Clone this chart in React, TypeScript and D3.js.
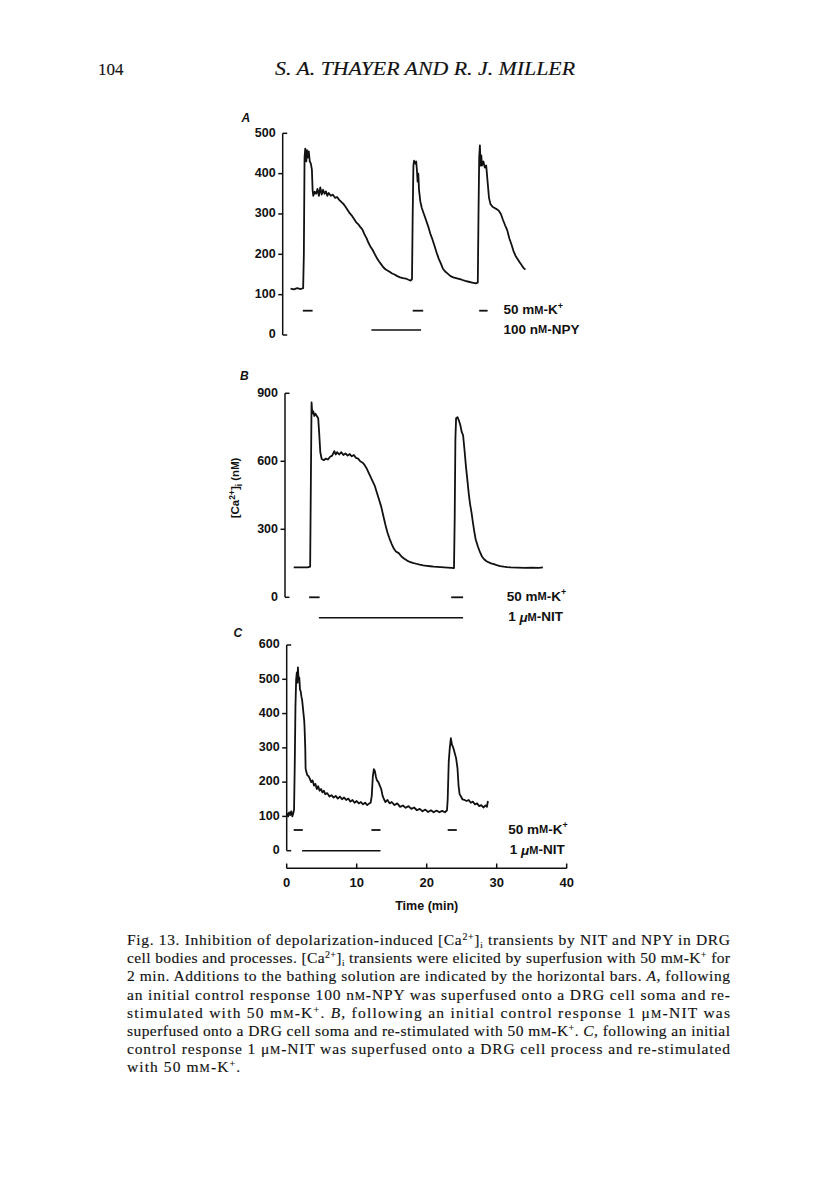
import React from "react";
import * as d3 from "d3";

// ---------- data (time in min, [Ca2+]i in nM) ----------
const timeTicks = [0, 10, 20, 30, 40];
const ticksA = [0, 100, 200, 300, 400, 500];
const ticksB = [0, 300, 600, 900];
const ticksC = [0, 100, 200, 300, 400, 500, 600];

const traceA: [number, number][] = [
  [0.55, 115], [1.0, 113], [1.5, 116], [2.0, 114], [2.35, 116], [2.45, 200], [2.55, 440], [2.65, 462], [2.8, 430], [2.9, 458],
  [3.0, 440], [3.15, 455], [3.3, 430], [3.45, 425], [3.6, 410], [3.7, 360], [3.8, 345], [4.0, 355], [4.2, 350], [4.4, 362],
  [4.6, 345], [4.8, 366], [5.0, 348], [5.2, 360], [5.4, 350], [5.6, 356], [5.8, 345], [6.0, 352], [6.3, 345], [6.6, 348],
  [6.9, 340], [7.2, 342], [7.5, 335], [7.8, 330], [8.1, 325], [8.4, 318], [8.7, 310], [9.0, 302], [9.3, 296], [9.6, 288],
  [9.9, 280], [10.2, 275], [10.5, 268], [10.8, 262], [11.1, 250], [11.4, 240], [11.7, 228], [12.0, 218], [12.3, 210],
  [12.6, 200], [12.9, 190], [13.2, 182], [13.5, 175], [13.8, 168], [14.1, 163], [14.4, 160], [14.7, 157], [15.0, 153],
  [15.4, 150], [15.8, 146], [16.2, 143], [16.6, 141], [17.0, 140], [17.4, 137], [17.7, 135], [17.9, 138], [18.0, 300],
  [18.1, 420], [18.2, 432], [18.35, 425], [18.5, 430], [18.6, 410], [18.7, 380], [18.8, 400], [18.9, 360], [19.1, 330],
  [19.3, 315], [19.6, 300], [19.9, 285], [20.2, 270], [20.5, 252], [20.8, 238], [21.1, 222], [21.4, 205], [21.7, 190],
  [22.0, 178], [22.3, 165], [22.6, 158], [23.0, 152], [23.4, 146], [23.8, 143], [24.2, 141], [24.6, 139], [25.0, 137],
  [25.5, 134], [26.0, 132], [26.5, 130], [27.0, 128], [27.3, 130], [27.4, 300], [27.5, 440], [27.6, 470], [27.7, 420],
  [27.8, 445], [27.9, 420], [28.1, 430], [28.3, 415], [28.5, 420], [28.7, 380], [28.9, 340], [29.1, 325], [29.4, 318],
  [29.7, 315], [30.0, 312], [30.3, 308], [30.6, 300], [30.9, 285], [31.2, 272], [31.5, 260], [31.8, 240], [32.1, 225],
  [32.4, 208], [32.7, 196], [33.0, 188], [33.3, 180], [33.6, 172], [33.9, 165], [34.1, 162],
];

const traceB: [number, number][] = [
  [1.0, 132], [2.0, 132], [3.0, 132], [3.35, 135], [3.45, 500], [3.55, 860], [3.65, 810], [3.8, 820], [3.95, 800], [4.1, 810],
  [4.3, 800], [4.5, 790], [4.65, 720], [4.8, 640], [5.0, 610], [5.3, 605], [5.6, 612], [5.9, 608], [6.2, 620], [6.5, 625],
  [6.8, 645], [7.0, 630], [7.2, 640], [7.5, 630], [7.8, 640], [8.1, 628], [8.4, 635], [8.7, 625], [9.0, 632], [9.3, 622],
  [9.6, 628], [9.9, 615], [10.2, 612], [10.5, 600], [10.8, 595], [11.1, 585], [11.4, 570], [11.7, 550], [12.0, 530],
  [12.3, 510], [12.6, 490], [12.9, 460], [13.2, 430], [13.5, 400], [13.8, 360], [14.1, 320], [14.4, 285], [14.7, 258],
  [15.0, 235], [15.3, 215], [15.6, 202], [16.0, 195], [16.4, 180], [16.8, 170], [17.2, 162], [17.6, 156], [18.0, 152],
  [18.5, 148], [19.0, 144], [19.5, 141], [20.0, 139], [20.5, 137], [21.0, 135], [21.5, 134], [22.0, 133], [22.5, 132],
  [23.0, 131], [23.5, 130], [23.9, 129], [24.0, 350], [24.1, 700], [24.2, 790], [24.4, 795], [24.6, 780], [24.8, 760],
  [25.0, 730], [25.2, 715], [25.4, 650], [25.6, 580], [25.8, 520], [26.0, 460], [26.2, 410], [26.4, 375], [26.6, 330],
  [26.8, 290], [27.0, 255], [27.3, 225], [27.6, 200], [27.9, 180], [28.2, 168], [28.5, 160], [28.8, 155], [29.2, 150],
  [29.6, 146], [30.0, 142], [30.5, 138], [31.0, 135], [31.5, 133], [32, 132], [33, 131], [34, 130], [35, 131], [36, 130],
  [36.6, 132],
];

const traceC: [number, number][] = [
  [0.0, 110], [0.2, 100], [0.35, 112], [0.5, 104], [0.65, 115], [0.8, 100], [0.95, 110], [1.05, 120], [1.15, 250], [1.25, 420],
  [1.35, 500], [1.45, 520], [1.55, 490], [1.6, 535], [1.7, 500], [1.8, 505], [1.9, 470], [2.0, 465], [2.1, 450], [2.2, 440],
  [2.3, 420], [2.4, 400], [2.5, 380], [2.55, 360], [2.65, 300], [2.7, 240], [2.8, 230], [2.95, 220], [3.1, 218], [3.3, 210],
  [3.5, 200], [3.7, 205], [3.9, 190], [4.1, 195], [4.3, 180], [4.5, 188], [4.7, 175], [4.9, 180], [5.1, 170], [5.3, 175],
  [5.5, 165], [5.8, 168], [6.1, 158], [6.4, 162], [6.7, 155], [7.0, 160], [7.3, 152], [7.6, 158], [7.9, 150], [8.2, 155],
  [8.5, 148], [8.8, 152], [9.1, 143], [9.4, 148], [9.7, 140], [10.0, 145], [10.3, 138], [10.6, 142], [10.9, 135], [11.2, 140],
  [11.5, 133], [11.8, 138], [12.0, 140], [12.15, 160], [12.3, 215], [12.45, 238], [12.6, 232], [12.75, 215], [12.9, 205],
  [13.1, 200], [13.3, 190], [13.5, 180], [13.7, 160], [13.9, 150], [14.1, 142], [14.4, 148], [14.7, 138], [15.0, 142],
  [15.4, 133], [15.8, 138], [16.2, 128], [16.6, 132], [17.0, 125], [17.4, 130], [17.8, 122], [18.2, 126], [18.6, 118],
  [19.0, 122], [19.4, 115], [19.8, 120], [20.2, 113], [20.6, 118], [21.0, 112], [21.4, 117], [21.8, 112], [22.2, 116],
  [22.6, 112], [22.9, 118], [23.0, 150], [23.15, 260], [23.3, 300], [23.45, 328], [23.6, 310], [23.8, 300], [24.0, 285],
  [24.2, 270], [24.4, 240], [24.55, 190], [24.7, 165], [24.9, 158], [25.1, 150], [25.4, 148], [25.7, 145], [26.0, 148],
  [26.3, 140], [26.6, 143], [26.9, 135], [27.2, 138], [27.5, 130], [27.8, 133], [28.1, 126], [28.4, 132], [28.6, 128],
  [28.75, 145],
];

// stimulus bars: [start, end] in min
const kBarsA: [number, number][] = [[2.3, 3.7], [18.0, 19.5], [27.5, 28.7]];
const drugBarsA: [number, number][] = [[12.1, 19.2]];
const kBarsB: [number, number][] = [[3.2, 4.7], [23.5, 25.2]];
const drugBarsB: [number, number][] = [[4.6, 25.2]];
const kBarsC: [number, number][] = [[1.0, 2.3], [12.1, 13.4], [23.0, 24.3]];
const drugBarsC: [number, number][] = [[2.2, 13.4]];

const captionLines = [
  "Fig. 13. Inhibition of depolarization-induced [Ca|2+|]~i~ transients by NIT and NPY in DRG",
  "cell bodies and processes. [Ca|2+|]~i~ transients were elicited by superfusion with 50 m^M^-K|+| for",
  "2 min. Additions to the bathing solution are indicated by the horizontal bars. *A*, following",
  "an initial control response 100 n^M^-NPY was superfused onto a DRG cell soma and re-",
  "stimulated with 50 m^M^-K|+|. *B*, following an initial control response 1 μ^M^-NIT was",
  "superfused onto a DRG cell soma and re-stimulated with 50 m^M^-K|+|. *C*, following an initial",
  "control response 1 μ^M^-NIT was superfused onto a DRG cell process and re-stimulated",
  "with 50 m^M^-K|+|.",
];

// ---------- layout ----------
const SANS = "'Liberation Sans', Arial, Helvetica, sans-serif";
const SERIF = "'Liberation Serif', 'Times New Roman', serif";

const x = d3.scaleLinear().domain([0, 40]).range([286.7, 566.7]);

type Panel = {
  letter: string;
  letterPos: [number, number];
  trace: [number, number][];
  ticks: number[];
  yRange: [number, number];
  axisX: number;
  kBars: [number, number][];
  drugBars: [number, number][];
  kRowY: number;
  drugRowY: number;
  labelX: number;
  drugLabel: "NPY" | "NIT";
};

const panels: Panel[] = [
  {
    letter: "A", letterPos: [241.5, 122], trace: traceA, ticks: ticksA, yRange: [335, 133.3], axisX: 282.7,
    kBars: kBarsA, drugBars: drugBarsA, kRowY: 310.7, drugRowY: 330, labelX: 503.5, drugLabel: "NPY",
  },
  {
    letter: "B", letterPos: [240, 380], trace: traceB, ticks: ticksB, yRange: [597.3, 393.3], axisX: 285,
    kBars: kBarsB, drugBars: drugBarsB, kRowY: 597.3, drugRowY: 617.7, labelX: 506.7, drugLabel: "NIT",
  },
  {
    letter: "C", letterPos: [233.5, 637], trace: traceC, ticks: ticksC, yRange: [850.7, 645], axisX: 286.7,
    kBars: kBarsC, drugBars: drugBarsC, kRowY: 830, drugRowY: 850.7, labelX: 508.3, drugLabel: "NIT",
  },
];

function renderCaptionLine(s: string, key: string) {
  // markup: |sup|, ~sub~, ^smallcap^, *italic*
  const parts: React.ReactNode[] = [];
  const re = /(\|[^|]+\||~[^~]+~|\^[^^]+\^|\*[^*]+\*)/g;
  let last = 0;
  let m: RegExpExecArray | null;
  let i = 0;
  let pending = 0;
  const push = (node: string, props: Record<string, unknown>, shift = 0) => {
    const dy = pending + shift;
    parts.push(
      <tspan key={key + i++} {...props} dy={dy !== 0 ? dy : undefined}>
        {node}
      </tspan>
    );
    pending = -shift;
  };
  while ((m = re.exec(s)) !== null) {
    if (m.index > last) push(s.slice(last, m.index), {});
    const tok = m[0];
    const body = tok.slice(1, -1);
    if (tok[0] === "|") push(body, { fontSize: 10 }, -5);
    else if (tok[0] === "~") push(body, { fontSize: 9 }, 3);
    else if (tok[0] === "^") push(body, { fontSize: 11.5 });
    else push(body, { fontStyle: "italic" });
    last = m.index + tok.length;
  }
  if (last < s.length) push(s.slice(last), {});
  return parts;
}

function StimLabel({ xPos, y, kind, drug }: { xPos: number; y: number; kind: "K" | "drug"; drug: string }) {
  const common = { x: xPos, y, fontFamily: SANS, fontWeight: 700, fontSize: 13.5, dominantBaseline: "middle" as const, fill: "#111" };
  if (kind === "K") {
    return (
      <text {...common}>
        50 m<tspan fontSize={11}>M</tspan>-K<tspan fontSize={9} dy={-4}>+</tspan>
      </text>
    );
  }
  if (drug === "NPY") {
    return (
      <text {...common}>
        100 n<tspan fontSize={11}>M</tspan>-NPY
      </text>
    );
  }
  return (
    <text {...common}>
      1 <tspan fontStyle="italic">μ</tspan><tspan fontSize={11}>M</tspan>-NIT
    </text>
  );
}

export default function App() {
  const line = d3.line<[number, number]>();
  const stroke = "#111";
  return (
    <svg width={816} height={1183} style={{ position: "absolute", left: 0, top: 0, background: "#fff" }}>
      <rect x={0} y={0} width={816} height={1183} fill="#fff" />
      {/* running header */}
      <text x={98} y={75} fontFamily={SERIF} fontSize={17} fill="#111" stroke="#111" strokeWidth={0.15}>104</text>
      <text x={275} y={75} fontFamily={SERIF} fontSize={18} fontStyle="italic" fill="#111" stroke="#111" strokeWidth={0.15}
        textLength={300} lengthAdjust="spacingAndGlyphs">
        S. A. THAYER  AND  R. J. MILLER
      </text>

      {panels.map((p) => {
        const y = d3.scaleLinear().domain([p.ticks[0], p.ticks[p.ticks.length - 1]]).range(p.yRange);
        const path = line.x((d) => x(d[0])).y((d) => y(d[1]))(p.trace) || "";
        const yTop = y(p.ticks[p.ticks.length - 1]);
        const yBot = y(p.ticks[0]);
        return (
          <g key={p.letter}>
            <text x={p.letterPos[0]} y={p.letterPos[1]} fontFamily={SANS} fontWeight={700} fontStyle="italic" fontSize={12} fill="#111">
              {p.letter}
            </text>
            {/* y axis */}
            <line x1={p.axisX} x2={p.axisX} y1={yTop} y2={yBot} stroke={stroke} strokeWidth={1.5} />
            {p.ticks.map((t, i) => {
              const yy = y(t);
              const end = i === 0 || i === p.ticks.length - 1;
              return (
                <g key={t}>
                  <line x1={end ? p.axisX : p.axisX - 4.5} x2={end ? p.axisX + 4.5 : p.axisX} y1={yy} y2={yy} stroke={stroke} strokeWidth={1.5} />
                  <text x={p.axisX - 7} y={yy} textAnchor="end" dominantBaseline="middle" fontFamily={SANS} fontWeight={700} fontSize={12.5} fill="#111">
                    {t}
                  </text>
                </g>
              );
            })}
            {/* trace */}
            <path d={path} fill="none" stroke={stroke} strokeWidth={1.8} strokeLinejoin="round" />
            {/* stimulus bars */}
            {p.kBars.map((b, i) => (
              <line key={"k" + i} x1={x(b[0])} x2={x(b[1])} y1={p.kRowY} y2={p.kRowY} stroke={stroke} strokeWidth={1.8} />
            ))}
            {p.drugBars.map((b, i) => (
              <line key={"d" + i} x1={x(b[0])} x2={x(b[1])} y1={p.drugRowY} y2={p.drugRowY} stroke={stroke} strokeWidth={1.4} />
            ))}
            <StimLabel xPos={p.labelX} y={p.kRowY} kind="K" drug={p.drugLabel} />
            <StimLabel xPos={p.labelX + (p.drugLabel === "NPY" ? 0 : 1.5)} y={p.drugRowY} kind="drug" drug={p.drugLabel} />
          </g>
        );
      })}

      {/* y label panel B */}
      <text transform="translate(239,488) rotate(-90)" textAnchor="middle" fontFamily={SANS} fontWeight={700} fontSize={11.5} fill="#111">
        [Ca<tspan fontSize={8.5} dy={-4}>2+</tspan><tspan dy={4}>]</tspan><tspan fontSize={8.5} dy={3}>i</tspan><tspan dy={-3}> (n</tspan><tspan fontSize={10}>M</tspan>)
      </text>

      {/* time axis */}
      <g>
        <line x1={x(0)} x2={x(40)} y1={868.3} y2={868.3} stroke={stroke} strokeWidth={1.5} />
        {timeTicks.map((t) => (
          <g key={t}>
            <line x1={x(t)} x2={x(t)} y1={868.3} y2={863.5} stroke={stroke} strokeWidth={1.5} />
            <text x={x(t)} y={884} textAnchor="middle" dominantBaseline="middle" fontFamily={SANS} fontWeight={700} fontSize={13} fill="#111">
              {t}
            </text>
          </g>
        ))}
        <text x={x(20)} y={907} textAnchor="middle" dominantBaseline="middle" fontFamily={SANS} fontWeight={700} fontSize={12.5} fill="#111">
          Time (min)
        </text>
      </g>

      {/* caption */}
      {captionLines.map((s, i) => (
        <text
          key={i}
          x={127}
          y={945 + i * 18.2}
          fontFamily={SERIF}
          fontSize={15.5}
          fill="#111"
          stroke="#111"
          strokeWidth={0.15}
          textLength={i < captionLines.length - 1 ? 603 : 113}
          lengthAdjust="spacing"
        >
          {renderCaptionLine(s, "l" + i)}
        </text>
      ))}
    </svg>
  );
}
